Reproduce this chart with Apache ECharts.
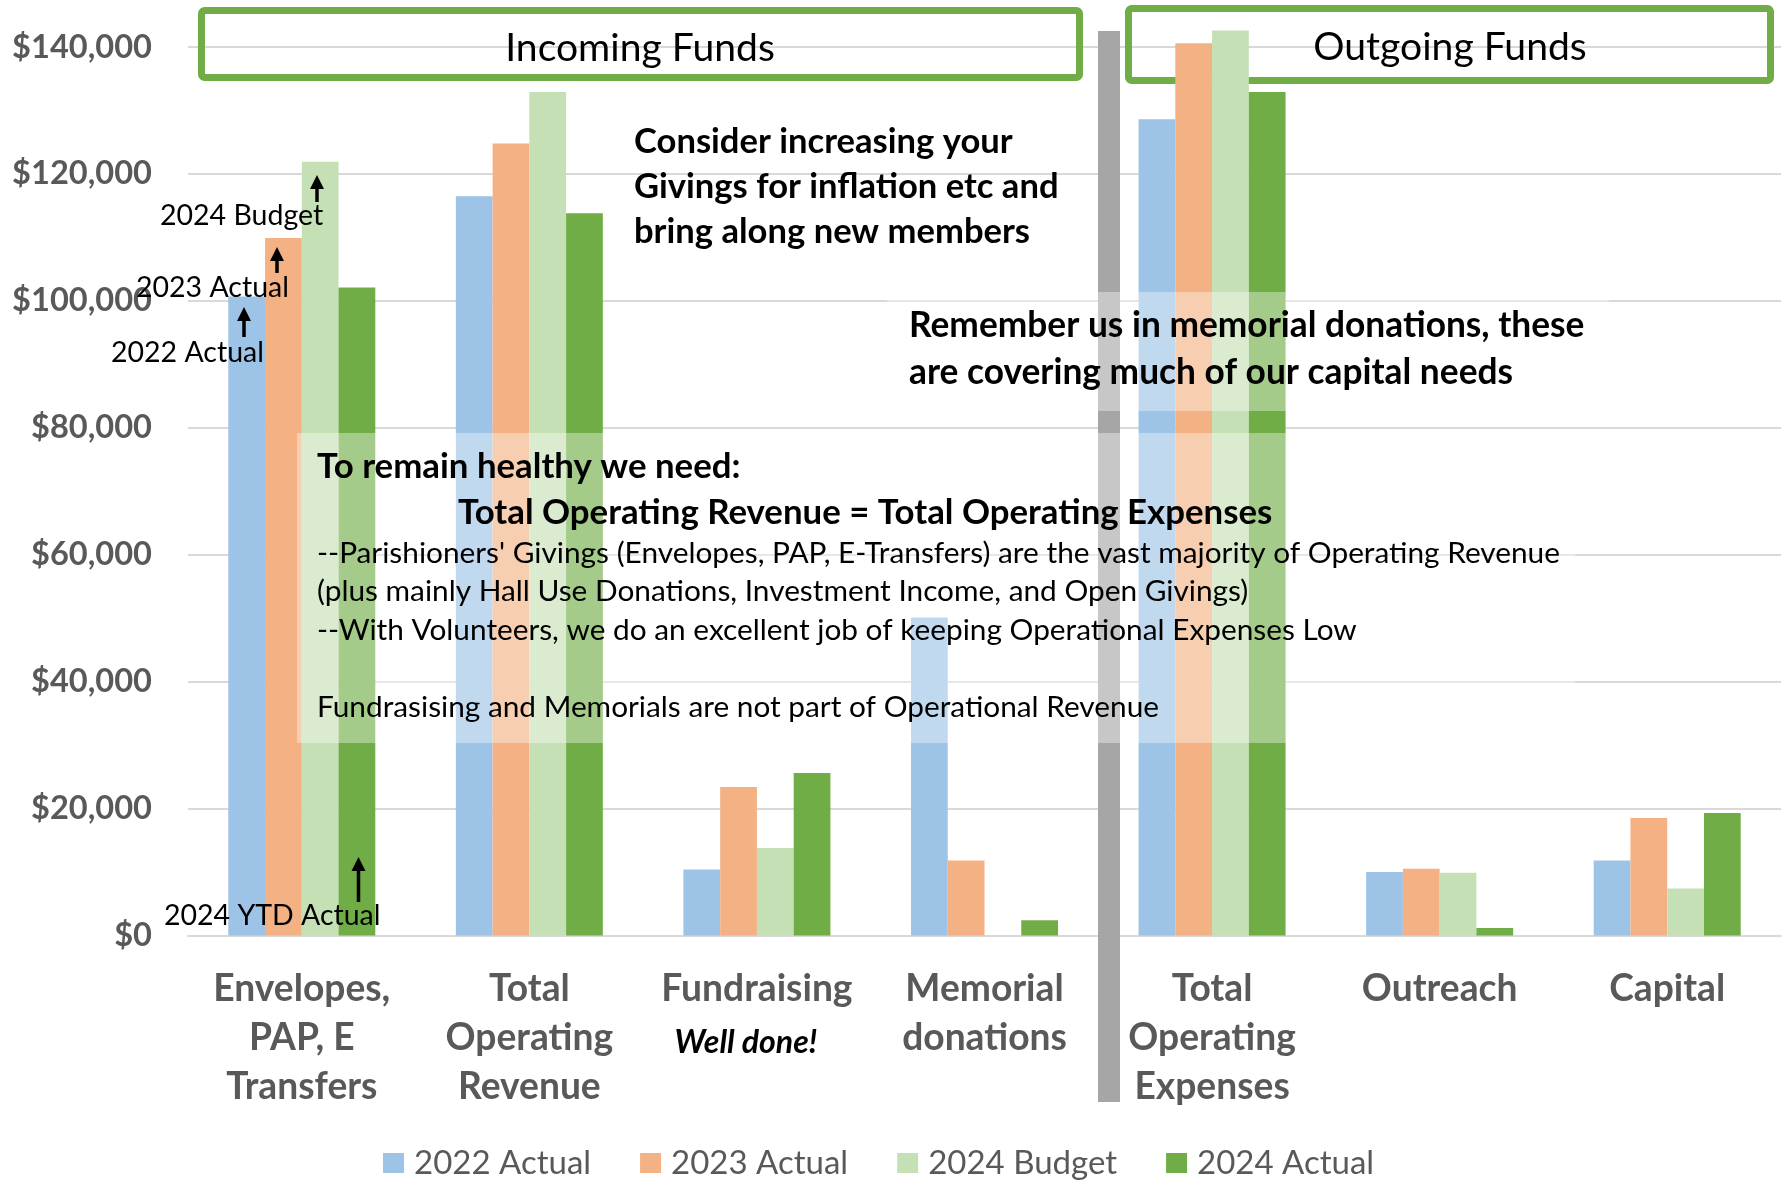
<!DOCTYPE html>
<html>
<head>
<meta charset="utf-8">
<title>Incoming and Outgoing Funds</title>
<script src="https://cdn.jsdelivr.net/npm/echarts@6/dist/echarts.min.js"></script>
<style>
  html, body { margin: 0; padding: 0; background: #fff; }
  #chart { width: 1791px; height: 1181px; }
</style>
</head>
<body>
<div id="chart"></div>
<script>
// data
var categories = ['Envelopes,\nPAP, E\nTransfers', 'Total\nOperating\nRevenue', 'Fundraising',
                  'Memorial\ndonations', 'Total\nOperating\nExpenses', 'Outreach', 'Capital'];
var seriesNames = ['2022 Actual', '2023 Actual', '2024 Budget', '2024 Actual'];
var actual2022 = [100700, 116500, 10400, 50100, 128600, 10000, 11800];
var actual2023 = [109900, 124800, 23400, 11800, 140600, 10500, 18500];
var budget2024 = [121900, 132900, 13800, 0, 142600, 9900, 7400];
var actual2024 = [102100, 113800, 25600, 2400, 132900, 1200, 19300];
var yMin = 0, yMax = 140000, yStep = 20000;

var colors = ['#9DC3E6', '#F4B183', '#C5E0B4', '#70AD47'];
var FONT = 'Lato';
var GREY = '#595959';

// pick a font size so a sample text gets the width it has in the picture
var ctx = document.createElement('canvas').getContext('2d');
function fit(text, weight, width) {
  ctx.font = weight + ' 100px ' + FONT;
  return Math.round(1000 * width / ctx.measureText(text).width) / 10;
}
var fsY = fit('$140,000', 'bold', 140);
var fsCat = fit('Fundraising', 'bold', 191);
var fsLegend = fit('2022 Actual', 'normal', 177);
var fsTitle = fit('Incoming Funds', 'normal', 270);
var fsNote = fit('Givings for inflation etc and', 'bold', 425);
var fsNote2 = fit('Remember us in memorial donations, these', 'bold', 676);
var fsBoxBold = fit('Total Operating Revenue = Total Operating Expenses', 'bold', 815);
var fsBox = fit("--Parishioners' Givings (Envelopes, PAP, E-Transfers) are the vast majority of Operating Revenue", 'normal', 1242);
var fsTag = fit('2024 Budget', 'normal', 163);
var fsWell = fit('Well done!', 'italic bold', 143);

function label(text, x, y, size, weight, lh) {
  // y = centre of first line
  lh = lh || size * 1.2;
  return {
    type: 'text', z: 12,
    style: { text: text, x: x, y: y - lh / 2, fill: '#000', fontFamily: FONT, fontSize: size,
             fontWeight: weight, lineHeight: lh, align: 'left', verticalAlign: 'top' }
  };
}
function arrow(x, yTop, yBottom) {
  return {
    type: 'group', z: 12,
    children: [
      { type: 'line', z: 12, shape: { x1: x, y1: yBottom, x2: x, y2: yTop + 10 }, style: { stroke: '#000', lineWidth: 3.5 } },
      { type: 'polygon', z: 12, shape: { points: [[x - 7, yTop + 14], [x, yTop], [x + 7, yTop + 14]] }, style: { fill: '#000' } }
    ]
  };
}
function frame(x, y, w, h) {
  return { type: 'rect', z: 1, shape: { x: x + 3.5, y: y + 3.5, width: w - 7, height: h - 7, r: 3 },
           style: { fill: 'none', stroke: '#70AD47', lineWidth: 7 } };
}
function veil(x, y, w, h) {
  return { type: 'rect', z: 10, shape: { x: x, y: y, width: w, height: h },
           style: { fill: 'rgba(255,255,255,0.37)' } };
}

var values = [actual2022, actual2023, budget2024, actual2024];
var series = seriesNames.map(function (name, i) {
  return {
    name: name, type: 'bar', data: values[i], clip: false,
    barGap: '0%', barCategoryGap: '35.4%',
    itemStyle: { color: colors[i] }
  };
});

var chart = echarts.init(document.getElementById('chart'));
chart.setOption({
  animation: false,
  textStyle: { fontFamily: FONT },
  grid: { left: 188, right: 10, top: 47, bottom: 245.5 },
  legend: {
    data: seriesNames, left: 383, top: 1143, padding: 0, itemGap: 49,
    itemWidth: 21, itemHeight: 20, icon: 'rect', selectedMode: false,
    textStyle: { color: GREY, fontSize: fsLegend, lineHeight: 40, padding: [0, 0, 0, 5] }
  },
  xAxis: {
    type: 'category', data: categories,
    axisLine: { lineStyle: { color: '#D9D9D9', width: 2 } },
    axisTick: { show: false },
    axisLabel: {
      interval: 0, margin: 29.5, color: GREY, fontWeight: 'bold', fontSize: fsCat, lineHeight: 49,
      formatter: function (v) { return v === 'Fundraising' ? v + '\n{w|Well done!}' : v; },
      rich: { w: { color: '#000', fontStyle: 'italic', fontWeight: 'bold', fontSize: fsWell, lineHeight: 58, padding: [0, 22, 0, 0] } }
    }
  },
  yAxis: {
    type: 'value', min: yMin, max: yMax, interval: yStep,
    axisLine: { show: false }, axisTick: { show: false },
    splitLine: { lineStyle: { color: '#D9D9D9', width: 2 } },
    axisLabel: {
      margin: 36, color: GREY, fontWeight: 'bold', fontSize: fsY,
      formatter: function (v) { return '$' + v.toLocaleString('en-US'); }
    }
  },
  series: series,
  graphic: [
    frame(198, 7, 885, 74),
    frame(1125, 5, 649, 79),
    { type: 'text', z: 3, style: { text: 'Incoming Funds', x: 640, y: 48, align: 'center', verticalAlign: 'middle',
      fill: '#000', fontFamily: FONT, fontSize: fsTitle } },
    { type: 'text', z: 3, style: { text: 'Outgoing Funds', x: 1450, y: 47, align: 'center', verticalAlign: 'middle',
      fill: '#000', fontFamily: FONT, fontSize: fsTitle } },
    { type: 'rect', z: 5, shape: { x: 1098, y: 31, width: 22, height: 1071 }, style: { fill: '#A6A6A6' } },
    veil(887, 292, 722, 119),
    veil(297, 433, 1278, 310),
    label('Consider increasing your\nGivings for inflation etc and\nbring along new members', 634, 142, fsNote, 'bold', 45),
    label('Remember us in memorial donations, these\nare covering much of our capital needs', 909, 326, fsNote2, 'bold', 46.5),
    label('To remain healthy we need:', 317, 467, fsBoxBold, 'bold'),
    label('Total Operating Revenue = Total Operating Expenses', 458, 513, fsBoxBold, 'bold'),
    label("--Parishioners' Givings (Envelopes, PAP, E-Transfers) are the vast majority of Operating Revenue\n" +
          '(plus mainly Hall Use Donations, Investment Income, and Open Givings)\n' +
          '--With Volunteers, we do an excellent job of keeping Operational Expenses Low', 317, 553, fsBox, 'normal', 38.5),
    label('Fundrasising and Memorials are not part of Operational Revenue', 317, 707, fsBox, 'normal'),
    label('2024 Budget', 160, 216, fsTag, 'normal'),
    label('2023 Actual', 136, 288, fsTag, 'normal'),
    label('2022 Actual', 111, 353, fsTag, 'normal'),
    label('2024 YTD Actual', 164, 916, fsTag, 'normal'),
    arrow(317, 175, 202),
    arrow(277, 247, 273),
    arrow(244, 307, 337),
    arrow(358.5, 857, 902)
  ]
});
</script>
</body>
</html>
